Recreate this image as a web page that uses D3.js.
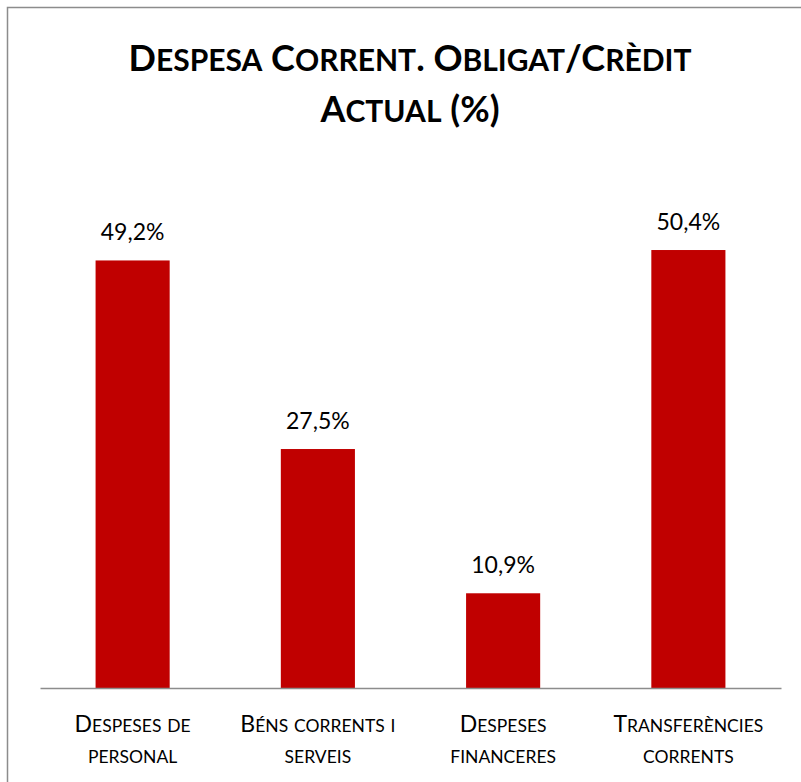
<!DOCTYPE html>
<html>
<head>
<meta charset="utf-8">
<script src="https://cdn.jsdelivr.net/npm/d3@7"></script>
<style>
  body { margin: 0; background: #fff; }
  svg text { font-family: Lato, "Open Sans", sans-serif; fill: #000; }
</style>
</head>
<body>
<div id="chart"></div>
<script>
// data
var categories = [["Despeses de", "personal"], ["Béns corrents i", "serveis"], ["Despeses", "financeres"], ["Transferències", "corrents"]];
var values = [49.2, 27.5, 10.9, 50.4];
var titleLines = ["Despesa Corrent. Obligat/Crèdit", "Actual (%)"];

var width = 801, height = 782;
var svg = d3.select("#chart").append("svg")
  .attr("width", width).attr("height", height);

// small caps by hand: split text into runs of capitals / lowercase
function smallCaps(sel, big, small) {
  sel.each(function(d) {
    var t = d3.select(this), s = t.datum().t, runs = [];
    for (var k = 0; k < s.length; k++) {
      var c = s[k], low = c !== c.toUpperCase();
      if (runs.length && runs[runs.length - 1].low === low) runs[runs.length - 1].s += c;
      else runs.push({s: c, low: low});
    }
    runs.forEach(function(r) {
      t.append("tspan").style("font-size", (r.low ? small : big) + "px").text(r.s.toUpperCase());
    });
  });
}

// chart frame
svg.append("rect").attr("x", 7.5).attr("y", 7.5)
  .attr("width", 810).attr("height", 800)
  .attr("fill", "none").attr("stroke", "#8c8c8c").attr("stroke-width", 1.5);

var x = d3.scaleBand().domain(d3.range(values.length)).range([40, 781])
  .paddingInner(0.6).paddingOuter(0.3);
var y = d3.scaleLinear().domain([0, 60]).range([688, 688 - 60 * 8.69]);

// title
svg.append("g").selectAll("text").data(titleLines.map(function(t){ return {t: t}; })).enter().append("text")
  .attr("x", 410).attr("y", function(d, i){ return 71 + i * 51; })
  .attr("text-anchor", "middle")
  .style("font-weight", "bold")
  .call(smallCaps, 36, 30);

// bars
svg.append("g").selectAll("rect").data(values).enter().append("rect")
  .attr("x", function(d, i){ return x(i); })
  .attr("y", function(d){ return y(d); })
  .attr("width", x.bandwidth())
  .attr("height", function(d){ return y(0) - y(d); })
  .attr("fill", "#c00000");

// value labels
svg.append("g").selectAll("text").data(values).enter().append("text")
  .attr("x", function(d, i){ return x(i) + x.bandwidth() / 2; })
  .attr("y", function(d){ return y(d) - 20; })
  .attr("text-anchor", "middle")
  .style("font-size", "23px")
  .text(function(d){ return d.toFixed(1).replace(".", ",") + "%"; });

// axis
var xAxis = svg.append("g").attr("transform", "translate(0," + y(0) + ")")
  .call(d3.axisBottom(x).tickSize(0).tickFormat(""));
xAxis.select(".domain").attr("stroke", "#8c8c8c").attr("stroke-width", 1.5);

// category labels
var cat = svg.append("g").selectAll("g").data(categories).enter().append("g");
cat.selectAll("text").data(function(d, i){ return d.map(function(t){ return {t: t, i: i}; }); })
  .enter().append("text")
  .attr("text-anchor", "middle")
  .attr("x", function(d){ return x(d.i) + x.bandwidth() / 2; })
  .attr("y", function(d, j){ return 732 + j * 31; })
  .call(smallCaps, 23, 17.5);
</script>
</body>
</html>
